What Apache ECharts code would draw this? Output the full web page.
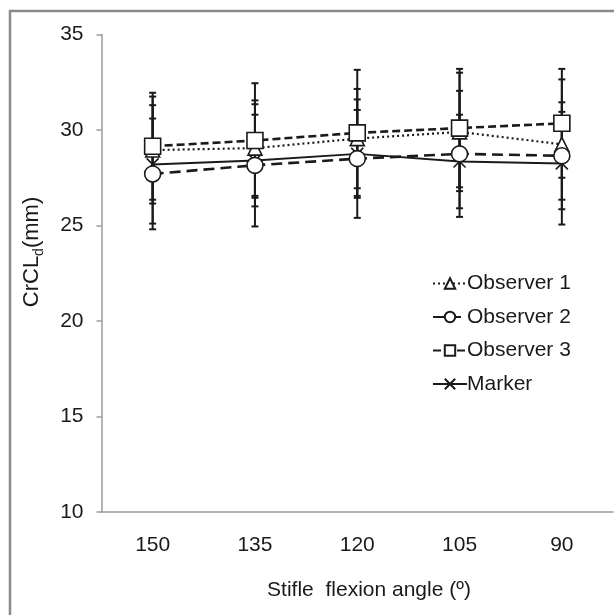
<!DOCTYPE html>
<html><head><meta charset="utf-8">
<script src="https://cdn.jsdelivr.net/npm/echarts@6/dist/echarts.min.js"></script>
<style>html,body{margin:0;padding:0;background:#fff}#c{width:614px;height:615px}</style>
</head><body><div id="c"></div>
<script>
// ---- data ----
const categories = ['150', '135', '120', '105', '90'];
const obs1Mean = [28.95, 29.05, 29.55, 29.9, 29.25];
const obs1SD   = [2.8, 2.5, 2.6, 3.1, 3.4];
const obs2Mean = [27.7, 28.15, 28.5, 28.75, 28.65];
const obs2SD   = [2.9, 3.2, 3.1, 3.3, 2.3];
const obs3Mean = [29.15, 29.45, 29.85, 30.1, 30.35];
const obs3SD   = [2.8, 3.0, 3.3, 3.1, 2.85];
const markerMean = [28.2, 28.4, 28.75, 28.35, 28.25];
const markerSD   = [3.1, 2.4, 2.3, 2.45, 3.2];
const yMin = 10, yMax = 35, yStep = 5;

const FONT = 'Liberation Sans, Arial, sans-serif';
const INK = '#1a1a1a';

function errSeries(name, mean, sd) {
  return {
    type: 'custom', name: name + ' err', z: 1, silent: true,
    data: mean.map((m, i) => [i, m - sd[i], m + sd[i]]),
    encode: { x: 0, y: [1, 2] },
    renderItem(params, api) {
      const lo = api.coord([api.value(0), api.value(1)]);
      const hi = api.coord([api.value(0), api.value(2)]);
      const w = 3.5;
      const st = { stroke: INK, lineWidth: 2 };
      return { type: 'group', children: [
        { type: 'line', shape: { x1: lo[0], y1: lo[1], x2: hi[0], y2: hi[1] }, style: st },
        { type: 'line', shape: { x1: lo[0] - w, y1: lo[1], x2: lo[0] + w, y2: lo[1] }, style: st },
        { type: 'line', shape: { x1: hi[0] - w, y1: hi[1], x2: hi[0] + w, y2: hi[1] }, style: st }
      ]};
    }
  };
}

function lineSeries(name, mean, lineStyle, symbol, size) {
  return {
    type: 'line', name: name, data: mean, z: 3,
    symbol: symbol, symbolSize: size, showAllSymbol: true,
    lineStyle: Object.assign({ color: INK }, lineStyle),
    itemStyle: { color: '#fff', borderColor: INK, borderWidth: 1.6 },
    emphasis: { disabled: true }
  };
}

const xSymbol = 'path://M0,0L10,10M10,0L0,10';

const chart = echarts.init(document.getElementById('c'), null, { renderer: 'canvas' });
chart.setOption({
  animation: false,
  backgroundColor: '#fff',
  textStyle: { fontFamily: FONT },
  grid: { left: 101.5, right: 1, top: 34.5, bottom: 103 },
  xAxis: {
    type: 'category', data: categories, boundaryGap: true,
    axisLine: { lineStyle: { color: '#9a9a9a', width: 1.5 } },
    axisTick: { alignWithLabel: true, length: 4, lineStyle: { color: '#9a9a9a', width: 1.5 } },
    axisLabel: { fontSize: 21, color: INK, margin: 23, fontFamily: FONT },
    splitLine: { show: false }
  },
  yAxis: {
    type: 'value', min: yMin, max: yMax, interval: yStep,
    axisLine: { show: true, lineStyle: { color: '#9a9a9a', width: 1.5 } },
    axisTick: { show: true, length: 5, lineStyle: { color: '#9a9a9a', width: 1.5 } },
    axisLabel: { fontSize: 21, color: INK, margin: 18, fontFamily: FONT },
    splitLine: { show: false }
  },
  legend: {
    orient: 'vertical', left: 427, top: 268,
    itemWidth: 34, itemHeight: 13, itemGap: 12.5,
    data: ['Observer 1', 'Observer 2', 'Observer 3', 'Marker'],
    textStyle: { fontSize: 21, color: INK, fontFamily: FONT, padding: [0, 0, 0, -5] },
    selectedMode: false
  },
  series: [
    errSeries('Observer 1', obs1Mean, obs1SD),
    errSeries('Observer 2', obs2Mean, obs2SD),
    errSeries('Observer 3', obs3Mean, obs3SD),
    errSeries('Marker', markerMean, markerSD),
    lineSeries('Marker', markerMean, { type: 'solid', width: 2 }, xSymbol, 12),
    lineSeries('Observer 1', obs1Mean, { type: [2, 3], width: 2.2 }, 'triangle', 14),
    lineSeries('Observer 2', obs2Mean, { type: [11, 6], width: 2.6 }, 'circle', 16),
    lineSeries('Observer 3', obs3Mean, { type: [8, 4], width: 2.6 }, 'rect', 16)
  ],
  graphic: [
    { type: 'rect', silent: true, z: 100, shape: { x: 10, y: 11, width: 620, height: 620 },
      style: { fill: 'none', stroke: '#8a8a8a', lineWidth: 2.5 } },
    { type: 'text', silent: true, x: 369, y: 590,
      style: { text: 'Stifle  flexion angle (º)', fontSize: 21, fontFamily: FONT, fill: INK,
               align: 'center', verticalAlign: 'middle' } },
    { type: 'text', silent: true, x: 32, y: 252, rotation: Math.PI / 2,
      style: { text: '{b|CrCL}{s|d}{b|(mm)}', align: 'center', verticalAlign: 'middle',
        rich: {
          b: { fontSize: 22, fontFamily: FONT, fill: INK, lineHeight: 28 },
          s: { fontSize: 14, fontFamily: FONT, fill: INK, lineHeight: 12, verticalAlign: 'bottom' }
        } } }
  ]
});
</script>
</body></html>
